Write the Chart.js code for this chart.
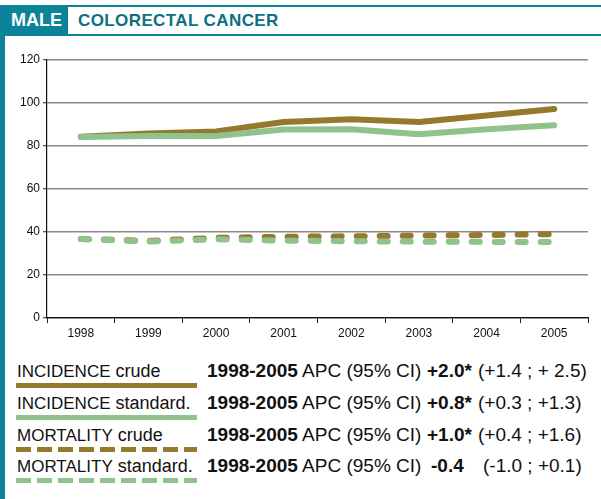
<!DOCTYPE html>
<html>
<head>
<meta charset="utf-8">
<script src="https://cdn.jsdelivr.net/npm/chart.js@4.4.1/dist/chart.umd.min.js"></script>
<style>
    html, body { margin: 0; padding: 0; background: #fff; }
    body { width: 601px; height: 499px; position: relative; overflow: hidden;
           font-family: "Liberation Sans", Arial, sans-serif; color: #111; }
    .frame-top { position: absolute; left: 0; top: 5px; width: 601px; height: 2px; background: #0b8399; }
    .frame-left { position: absolute; left: 0; top: 5px; width: 5px; height: 494px; background: #0b8399; }
    .frame-sub { position: absolute; left: 0; top: 34px; width: 601px; height: 2px; background: #0b8399; }
    .tag { position: absolute; left: 5px; top: 7px; width: 63px; height: 27px; background: #0b8399;
           color: #fff; font-weight: bold; font-size: 18px; line-height: 27px; text-align: center; }
    .title { position: absolute; left: 78px; top: 7px; height: 27px; line-height: 27px;
             color: #0e6f82; font-weight: bold; font-size: 17px; letter-spacing: 0.4px; }
    #chartBox { position: absolute; left: 0; top: 40px; width: 600px; height: 310px; }
    .row { position: absolute; left: 0; width: 601px; height: 30px; }
    .row span { position: absolute; top: -2px; white-space: nowrap; font-size: 19px; line-height: 20px; }
    .lbl { left: 17px; font-size: 18px !important; }
    .lbl small { font-size: 17px; }
    .per { left: 207px; }
    .val { left: 427px; font-weight: bold; }
    .ci { left: 478px; }
    .bar { position: absolute; left: 16px; top: 20px; width: 181px; height: 5px; }
</style>
</head>
<body>
<div class="frame-top"></div>
<div class="frame-left"></div>
<div class="frame-sub"></div>
<div class="tag">MALE</div>
<div class="title">COLORECTAL CANCER</div>
<div id="chartBox"><canvas id="trendChart"></canvas></div>
<div id="legendBox"></div>

<script>
/* ============================================================
   DATA
============================================================ */
const years = ["1998", "1999", "2000", "2001", "2002", "2003", "2004", "2005"];
const incidenceCrude = [84.3, 85.8, 86.8, 91.2, 92.4, 91.2, 94.2, 97.2];
const incidenceStd = [84.2, 84.7, 84.6, 87.7, 87.8, 85.5, 87.8, 89.7];
const mortalityCrude = [36.8, 35.8, 37.3, 37.8, 38.0, 38.3, 38.6, 39.0];
const mortalityStd = [36.8, 35.6, 36.6, 36.0, 35.7, 35.5, 35.4, 35.4];
const yTicks = [0, 20, 40, 60, 80, 100, 120];

const seriesNames = ["INCIDENCE crude", "INCIDENCE standard.", "MORTALITY crude", "MORTALITY standard."];
const apcValues = ["+2.0*", "+0.8*", "+1.0*", "-0.4"];
const apcRanges = ["(+1.4 ; + 2.5)", "(+0.3 ; +1.3)", "(+0.4 ; +1.6)", "(-1.0 ; +0.1)"];

const BROWN = "#957a2d";
const GREEN = "#90c28d";

/* ============================================================
   ON PAGE LOADED
============================================================ */
document.addEventListener("DOMContentLoaded", () => {

    /* ============================================================
       1. CHART
    ============================================================ */
    function lineSet(label, data, color, dashed, order) {
        return {
            label: label,
            data: data,
            borderColor: color,
            borderWidth: 6,
            borderCapStyle: "round",
            borderJoinStyle: "round",
            borderDash: dashed ? [8, 15] : [],
            pointRadius: 0,
            tension: 0,
            fill: false,
            order: order
        };
    }

    const ctx = document.getElementById("trendChart").getContext("2d");

    new Chart(ctx, {
        type: "line",
        data: {
            labels: years,
            datasets: [
                lineSet(seriesNames[0], incidenceCrude, BROWN, false, 2),
                lineSet(seriesNames[1], incidenceStd, GREEN, false, 1),
                lineSet(seriesNames[2], mortalityCrude, BROWN, true, 2),
                lineSet(seriesNames[3], mortalityStd, GREEN, true, 1)
            ]
        },
        options: {
            responsive: true,
            maintainAspectRatio: false,
            animation: false,
            layout: { padding: { top: 20, right: 12, left: 0, bottom: 0 } },
            plugins: { legend: { display: false }, tooltip: { enabled: false } },
            scales: {
                x: {
                    offset: true,
                    afterFit: s => { s.height = 32; },
                    grid: {
                        offset: true,
                        drawOnChartArea: false,
                        drawTicks: true,
                        tickLength: 5,
                        tickColor: "#222",
                        tickWidth: 1
                    },
                    border: { color: "#111", width: 1.2 },
                    ticks: {
                        color: "#111",
                        padding: 3,
                        maxRotation: 0,
                        font: { family: "Liberation Sans", size: 12 }
                    }
                },
                y: {
                    min: 0,
                    max: 120,
                    afterFit: s => { s.width = 47; },
                    afterBuildTicks: s => { s.ticks = yTicks.map(v => ({ value: v })); },
                    grid: {
                        color: "#8a8a8a",
                        lineWidth: 1.5,
                        tickLength: 4,
                        tickColor: "#222",
                        tickWidth: 1
                    },
                    border: { color: "#111", width: 1.2 },
                    ticks: {
                        color: "#111",
                        padding: 3,
                        font: { family: "Liberation Sans", size: 12 }
                    }
                }
            }
        }
    });

    /* ============================================================
       2. LEGEND + APC TABLE
    ============================================================ */
    const legendBox = document.getElementById("legendBox");
    const rowTops = [363, 395, 427, 458];
    const rowColors = [BROWN, GREEN, BROWN, GREEN];

    seriesNames.forEach((name, i) => {
        const parts = name.split(" ");
        const dashed = i >= 2;
        const barStyle = dashed
            ? `background: repeating-linear-gradient(90deg, ${rowColors[i]} 0 15px, transparent 15px 21px);`
            : `background: ${rowColors[i]};`;
        legendBox.innerHTML += `
        <div class="row" style="top:${rowTops[i]}px">
            <span class="lbl"><small>${parts[0]}</small> ${parts.slice(1).join(" ")}</span>
            <div class="bar" style="${barStyle}"></div>
            <span class="per"><b>1998-2005</b> APC (95% CI)</span>
            <span class="val" style="${i === 3 ? "left:431px" : ""}">${apcValues[i]}</span>
            <span class="ci" style="${i === 3 ? "left:483px" : ""}">${apcRanges[i]}</span>
        </div>`;
    });

});
</script>
</body>
</html>
